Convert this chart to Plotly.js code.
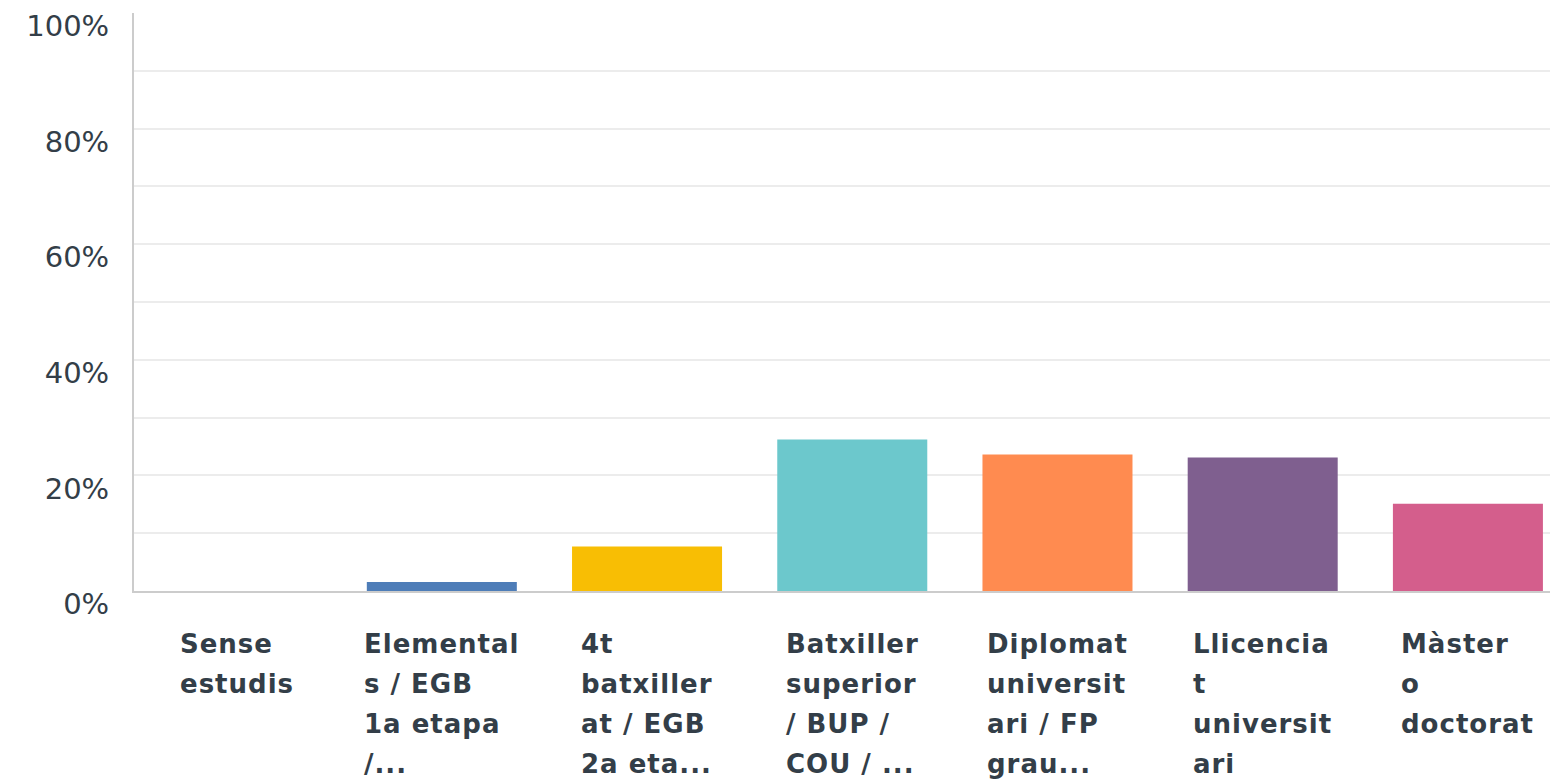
<!DOCTYPE html>
<html>
<head>
<meta charset="utf-8">
<script src="https://cdn.plot.ly/plotly-3.0.1.min.js"></script>
<style>
  html, body { margin: 0; padding: 0; background: #ffffff; }
  #chart { width: 1550px; height: 784px; }
  text.annotation-text { letter-spacing: 1px; }
</style>
</head>
<body>
<div id="chart"></div>
<script>
// ---- data ----
const categories = [
  'Sense estudis',
  'Elementals / EGB 1a etapa /...',
  '4t batxillerat / EGB 2a etapa...',
  'Batxiller superior / BUP / COU / ...',
  'Diplomat universitari / FP grau...',
  'Llicenciat universitari',
  'Màster o doctorat'
];
const tickLabels = [
  'Sense<br>estudis',
  'Elemental<br>s / EGB<br>1a etapa<br>/...',
  '4t<br>batxiller<br>at / EGB<br>2a eta...',
  'Batxiller<br>superior<br>/ BUP /<br>COU / ...',
  'Diplomat<br>universit<br>ari / FP<br>grau...',
  'Llicencia<br>t<br>universit<br>ari',
  'Màster<br>o<br>doctorat'
];
const values = [0, 1.56, 7.7, 26.2, 23.6, 23.1, 15.1];
const barColors = ['#4e7db8', '#4e7db8', '#f8be04', '#6cc8cc', '#ff8b50', '#7f5f8f', '#d45e8c'];
const yTickVals = [0, 20, 40, 60, 80, 100];
const yTickText = ['0%', '20%', '40%', '60%', '80%', '100%'];

// ---- styles ----
const textColor = '#333e48';
const lineGap = 40;

const trace = {
  type: 'bar',
  x: categories,
  y: values,
  marker: { color: barColors, line: { width: 0 } },
  hoverinfo: 'skip'
};

const annotations = categories.map((c, i) => ({
  x: c,
  y: 0,
  xref: 'x',
  yref: 'paper',
  xanchor: 'center',
  yanchor: 'top',
  align: 'left',
  yshift: -36,
  showarrow: false,
  text: tickLabels[i],
  font: { family: 'DejaVu Sans', size: 26, color: textColor, weight: 700 }
}));

const layout = {
  width: 1550,
  height: 784,
  margin: { l: 134, r: 0, t: 13, b: 193 },
  paper_bgcolor: '#ffffff',
  plot_bgcolor: '#ffffff',
  showlegend: false,
  bargap: 0.269,
  xaxis: {
    type: 'category',
    range: [-0.5, 6.4],
    showticklabels: false,
    ticks: '',
    showgrid: false,
    zeroline: false,
    showline: true,
    linecolor: '#cccccc',
    linewidth: 2,
    fixedrange: true
  },
  yaxis: {
    range: [0, 100],
    tickvals: yTickVals,
    ticktext: yTickText,
    ticks: '',
    ticklabelshift: 13,
    ticklabelstandoff: 17,
    tickfont: { family: 'DejaVu Sans', size: 29, color: textColor },
    showgrid: true,
    gridcolor: '#ececec',
    gridwidth: 2,
    minor: { dtick: 10, showgrid: true, gridcolor: '#ececec', gridwidth: 2, ticks: '' },
    zeroline: false,
    showline: true,
    linecolor: '#cccccc',
    linewidth: 2,
    fixedrange: true
  },
  annotations: annotations
};

Plotly.newPlot('chart', [trace], layout, { displayModeBar: false, staticPlot: true }).then(() => {
  document.querySelectorAll('text.annotation-text').forEach(txt => {
    txt.querySelectorAll('tspan.line').forEach((ts, i) => ts.setAttribute('dy', (i * lineGap) + 'px'));
  });
});
</script>
</body>
</html>
